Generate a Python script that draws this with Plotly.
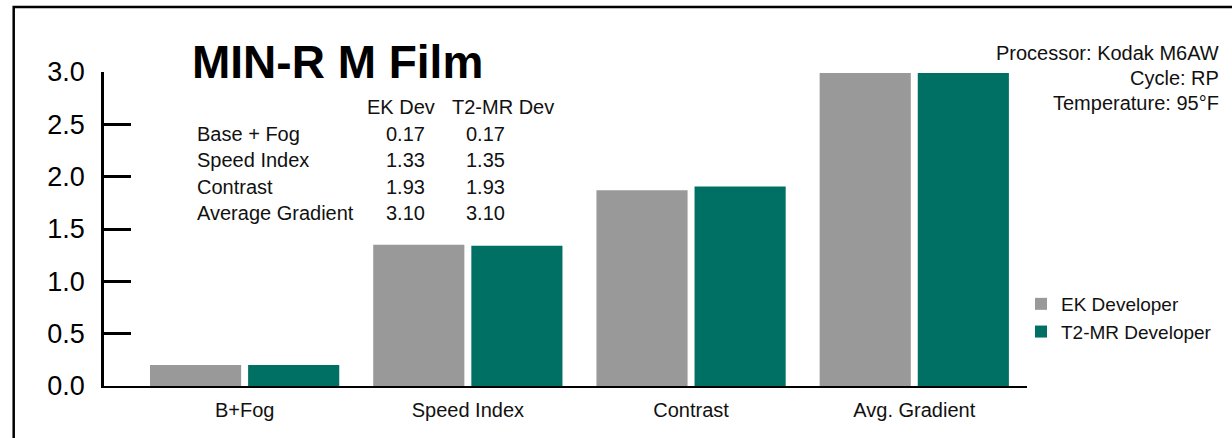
import plotly.graph_objects as go

categories = ["B+Fog", "Speed Index", "Contrast", "Avg. Gradient"]
ek_values = [0.20, 1.35, 1.87, 2.99]
t2_values = [0.20, 1.34, 1.905, 2.99]
y_ticks = [0.0, 0.5, 1.0, 1.5, 2.0, 2.5, 3.0]

table_rows = ["Base + Fog", "Speed Index", "Contrast", "Average Gradient"]
table_ek = ["0.17", "1.33", "1.93", "3.10"]
table_t2 = ["0.17", "1.35", "1.93", "3.10"]
info_lines = ["Processor: Kodak M6AW", "Cycle: RP", "Temperature: 95°F"]

GRAY = "#999999"
TEAL = "#007064"
FONT = "Liberation Sans, Arial, sans-serif"

L, R, T, B = 104, 205, 72, 52
W, H = 1232, 438
PW = W - L - R
PH = H - T - B


def px(x):
    return (x - L) / PW


def py(y):
    return (H - B - y) / PH


fig = go.Figure()
xpos = list(range(len(categories)))
fig.add_trace(go.Bar(x=xpos, y=ek_values, name="EK Developer",
                     marker=dict(color=GRAY, line=dict(width=0))))
fig.add_trace(go.Bar(x=xpos, y=t2_values, name="T2-MR Developer",
                     marker=dict(color=TEAL, line=dict(width=0))))

annotations = []
annotations.append(dict(text="<b>MIN-R M Film</b>", x=px(190), y=py(62), xref="paper", yref="paper",
                        xanchor="left", yanchor="middle", showarrow=False,
                        font=dict(family=FONT, size=46, color="black")))
annotations.append(dict(text="EK Dev", x=px(401), y=py(107), xref="paper", yref="paper",
                        xanchor="center", yanchor="middle", showarrow=False,
                        font=dict(family=FONT, size=20, color="#111")))
annotations.append(dict(text="T2-MR Dev", x=px(503), y=py(107), xref="paper", yref="paper",
                        xanchor="center", yanchor="middle", showarrow=False,
                        font=dict(family=FONT, size=20, color="#111")))
row_y = [134, 160, 187, 213]
for lbl, a, b, yy in zip(table_rows, table_ek, table_t2, row_y):
    annotations.append(dict(text=lbl, x=px(195), y=py(yy), xref="paper", yref="paper",
                            xanchor="left", yanchor="middle", showarrow=False,
                            font=dict(family=FONT, size=20, color="#111")))
    annotations.append(dict(text=a, x=px(405), y=py(yy), xref="paper", yref="paper",
                            xanchor="center", yanchor="middle", showarrow=False,
                            font=dict(family=FONT, size=20, color="#111")))
    annotations.append(dict(text=b, x=px(485), y=py(yy), xref="paper", yref="paper",
                            xanchor="center", yanchor="middle", showarrow=False,
                            font=dict(family=FONT, size=20, color="#111")))
for line, yy in zip(info_lines, [53, 78, 103]):
    annotations.append(dict(text=line, x=px(1221), y=py(yy), xref="paper", yref="paper",
                            xanchor="right", yanchor="middle", showarrow=False,
                            font=dict(family=FONT, size=20, color="#111")))

frame_path = (f"M {px(13.7)} {py(450)} L {px(13.7)} {py(7)} L {px(1245)} {py(7)}")

fig.update_layout(
    width=W, height=H,
    margin=dict(l=L, r=R, t=T, b=B, pad=0),
    paper_bgcolor="white", plot_bgcolor="white",
    barmode="group", bargap=0.121, bargroupgap=0.071,
    showlegend=True,
    legend=dict(x=px(1021), y=py(285), xanchor="left", yanchor="top",
                font=dict(family=FONT, size=19, color="#111"),
                bgcolor="rgba(0,0,0,0)", tracegroupgap=0),
    xaxis=dict(range=[-0.63, 3.505], tickvals=xpos, ticktext=categories,
               showline=True, linecolor="black", linewidth=2, ticks="",
               ticklabelstandoff=5,
               showgrid=False, zeroline=False,
               tickfont=dict(family="Liberation Sans Narrow, Arial Narrow, Liberation Sans", size=20, color="#111")),
    yaxis=dict(range=[0, 3.0], tickvals=y_ticks, ticktext=[f"{v:.1f}" for v in y_ticks],
               showline=True, linecolor="black", linewidth=2.5,
               ticks="inside", ticklen=27, tickwidth=2.5, tickcolor="black",
               ticklabelstandoff=11,
               showgrid=False, zeroline=False,
               tickfont=dict(family=FONT, size=27, color="black")),
    annotations=annotations,
    shapes=[dict(type="path", path=frame_path, xref="paper", yref="paper",
                 line=dict(color="black", width=2.5))],
)

fig.write_html("out.html", config={"displayModeBar": False},
               post_script="document.body.style.margin='0';")
